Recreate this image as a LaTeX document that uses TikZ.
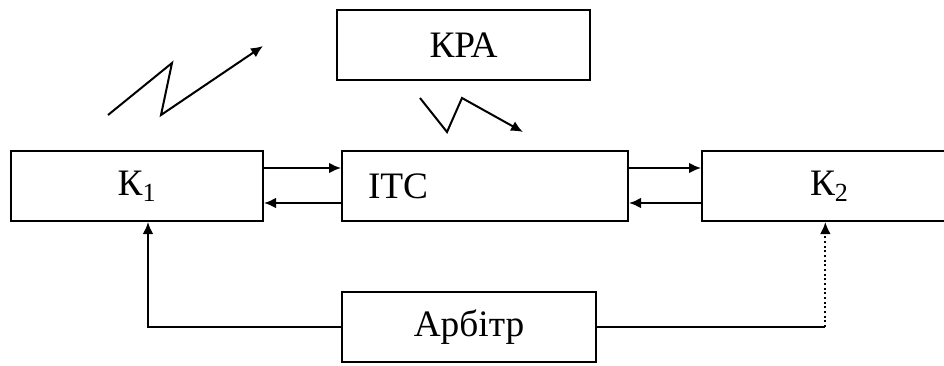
\documentclass[tikz,border=0pt]{standalone}
\usepackage{fontspec}
\setmainfont{Liberation Serif}
\usetikzlibrary{arrows.meta}
\tikzstyle{block} = [rectangle, draw=black, line width=1.5pt, minimum height=52.5pt, inner sep=0pt, font=\fontsize{28}{34}\selectfont]
\tikzstyle{arrow} = [line width=1.5pt,->,>={Latex[length=9pt,width=8pt]}]

\begin{document}
\begin{tikzpicture}[x=0.75pt,y=-0.75pt]
\useasboundingbox (0,0) rectangle (944,365);
\clip (0,0) rectangle (944,365);
\node (k1) [block, minimum width=189pt] at (137,186) {К\textsubscript{1}};
\node (itc) [block, minimum width=214.5pt, text width=175.5pt, inner xsep=19.5pt, align=left] at (485,186) {ІТС};
\node (k2) [block, minimum width=195pt] at (832,186) {\hspace*{-4pt}К\textsubscript{2}};
\node (kpa) [block, minimum width=189.75pt] at (463.5,45) {КРА};
\node (arb) [block, minimum width=190.5pt] at (469,327) {Арбітр};

\coordinate (z1) at (108,115);
\coordinate (z2) at (172,63);
\coordinate (z3) at (161,115);
\coordinate (z4) at (263,46);
\coordinate (r1) at (420,98);
\coordinate (r2) at (447,132);
\coordinate (r3) at (462,98);
\coordinate (r4) at (523,132);
\coordinate (turn) at ([xshift=-5pt]k2.south |- arb.east);

\draw [arrow] (z1) -- (z2) -- (z3) -- (z4);
\draw [arrow] (r1) -- (r2) -- (r3) -- (r4);

\draw [arrow] ([yshift=13.5pt]k1.east) -- ([yshift=13.5pt]itc.west);
\draw [arrow] ([yshift=-12.75pt]itc.west) -- ([yshift=-12.75pt]k1.east);
\draw [arrow] ([yshift=13.5pt]itc.east) -- ([yshift=13.5pt]k2.west);
\draw [arrow] ([yshift=-12.75pt]k2.west) -- ([yshift=-12.75pt]itc.east);

\draw [arrow] (arb.west) -| ([xshift=8.25pt]k1.south);
\draw [line width=1.5pt] (arb.east) -- (turn);
\draw [arrow, dotted] (turn) -- (turn |- k2.south);
\end{tikzpicture}
\end{document}
